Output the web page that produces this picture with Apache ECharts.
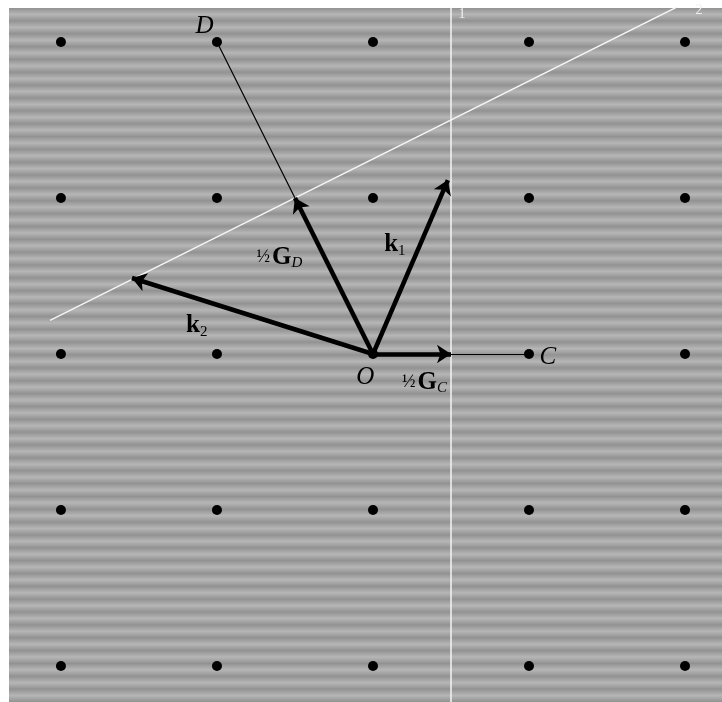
<!DOCTYPE html>
<html>
<head>
<meta charset="utf-8">
<script src="https://cdn.jsdelivr.net/npm/echarts@6/dist/echarts.min.js"></script>
<style>
html,body{margin:0;padding:0;background:#fff;}
#main{width:722px;height:702px;}
</style>
</head>
<body>
<div id="main"></div>
<script>
// reciprocal lattice points (units of lattice spacing)
var latticeX = [-2, -1, 0, 1, 2];
var latticeY = [-2, -1, 0, 1, 2];

var origin = [0, 0];
var pointC = [1, 0];
var pointD = [-1, 2];
var k1 = [0.48, 1.115];
var k2 = [-1.545, 0.487];
var halfGC = [0.5, 0];
var halfGD = [-0.5, 1];

// Bragg planes (white lines)
var plane1 = [[0.5, -2.3], [0.5, 2.3]];
var plane2 = [[-2.07, 0.215], [1.98, 2.24]];

// text labels: [x, y, text]
var labels = [
	[-1.08, 2.1, '{i|D}'],
	[1.12, -0.02, '{i|C}'],
	[-0.05, -0.15, '{i|O}'],
	[0.33, -0.18, '{f|½}{g|G}{s|C}'],
	[0.14, 0.7, '{g|k}{n|1}'],
	[-1.13, 0.18, '{g|k}{n|2}'],
	[-0.6, 0.62, '{f|½}{g|G}{s|D}'],
	[0.57, 2.18, '{w|1}'],
	[2.09, 2.2, '{w|2}']
];

var dots = [];
latticeX.forEach(function(x){
	latticeY.forEach(function(y){ dots.push([x, y]); });
});

// halftone-ish horizontal stripes for the scanned look
var stops = [];
var nStripe = 54;
for (var i = 0; i < nStripe; i++) {
	stops.push({offset: i / nStripe, color: '#929292'});
	stops.push({offset: (i + 0.5) / nStripe, color: '#b6b6b6'});
}
stops.push({offset: 1, color: '#929292'});

var rich = {
	i: {fontFamily: 'Liberation Serif', fontStyle: 'italic', fontSize: 25, color: '#000'},
	g: {fontFamily: 'Liberation Serif', fontWeight: 'bold', fontSize: 25, color: '#000'},
	s: {fontFamily: 'Liberation Serif', fontStyle: 'italic', fontSize: 15, color: '#000', padding: [12, 0, 0, 0]},
	n: {fontFamily: 'Liberation Serif', fontSize: 15, color: '#000', padding: [12, 0, 0, 0]},
	f: {fontFamily: 'Liberation Serif', fontSize: 18, color: '#000', padding: [0, 2, 0, 0]},
	w: {fontFamily: 'Liberation Serif', fontSize: 14, color: '#f0f0f0'}
};

var chart = echarts.init(document.getElementById('main'));
chart.setOption({
	backgroundColor: '#ffffff',
	animation: false,
	grid: {
		left: 9, top: 8, right: 0, bottom: 0,
		show: true,
		borderWidth: 0,
		backgroundColor: new echarts.graphic.LinearGradient(0, 0, 0, 1, stops)
	},
	xAxis: {type: 'value', min: -2.333, max: 2.237, show: false},
	yAxis: {type: 'value', min: -2.231, max: 2.218, show: false},
	series: [
		{
			type: 'line',
			data: plane1,
			symbol: 'none',
			lineStyle: {color: '#f4f4f4', width: 1.5},
			z: 2
		},
		{
			type: 'line',
			data: plane2,
			symbol: 'none',
			lineStyle: {color: '#f4f4f4', width: 1.5},
			z: 2
		},
		{
			// thin guide lines O->C and O->D
			type: 'lines',
			coordinateSystem: 'cartesian2d',
			symbol: 'none',
			lineStyle: {color: '#000', width: 1.2, opacity: 1},
			data: [
				{coords: [origin, pointC]},
				{coords: [origin, pointD]}
			],
			z: 3
		},
		{
			type: 'scatter',
			data: dots,
			symbolSize: 10,
			itemStyle: {color: '#000', opacity: 1},
			z: 4
		},
		{
			// thick vectors
			type: 'lines',
			coordinateSystem: 'cartesian2d',
			symbol: ['none', 'arrow'],
			symbolSize: 14,
			lineStyle: {color: '#000', width: 4.5, opacity: 1},
			data: [
				{coords: [origin, k1]},
				{coords: [origin, k2]},
				{coords: [origin, halfGD]},
				{coords: [origin, halfGC]}
			],
			z: 5
		},
		{
			type: 'scatter',
			data: labels,
			symbolSize: 0,
			itemStyle: {opacity: 1},
			label: {
				show: true,
				position: 'inside',
				formatter: function(p){ return p.data[2]; },
				rich: rich
			},
			z: 6
		}
	]
});
</script>
</body>
</html>
